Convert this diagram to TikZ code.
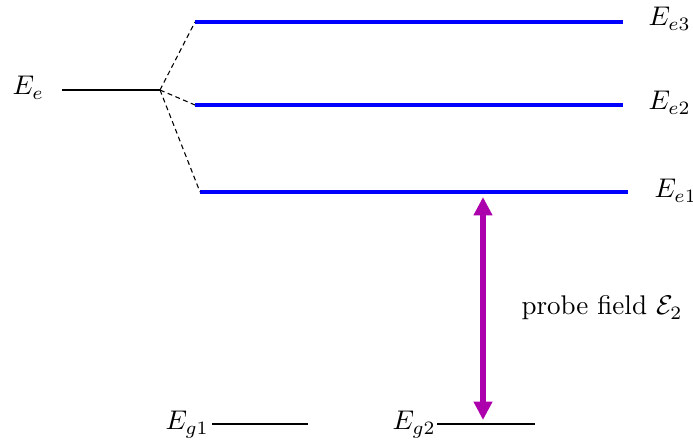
\documentclass[tikz,border=0pt]{standalone}
\usepackage{amsmath}
\usepackage{xcolor}
\definecolor{lvlblue}{RGB}{0,0,255}
\definecolor{probemag}{RGB}{172,0,172}
\usepackage{tikz}
\usetikzlibrary{arrows.meta, positioning}

\tikzset{
  bare/.style={black, line width=0.8pt},
  split/.style={lvlblue, line width=1.5pt},
  fan/.style={dash pattern=on 1.8pt off 1.3pt, line width=0.4pt},
  lbl/.style={inner sep=0pt, anchor=base west},
  probe/.style={probemag, line width=2.2pt, {Triangle[length=6.8pt,width=6.6pt]}-{Triangle[length=6.8pt,width=6.6pt]}}
}

\begin{document}
\begin{tikzpicture}[x=0.37pt, y=-0.37pt]
  \useasboundingbox (0,0) rectangle (693,444);

  % unperturbed excited level
  \coordinate (ee-l) at (62,90);
  \coordinate (ee-r) at (160,90);
  \draw[bare] (ee-l) -- (ee-r);
  \node[lbl] (ee-lbl) at (12,95) {$E_e$};

  % split excited levels
  \coordinate (e3-l) at (195,22);   \coordinate (e3-r) at (623,22);
  \coordinate (e2-l) at (195,105);  \coordinate (e2-r) at (623,105);
  \coordinate (e1-l) at (200,192);  \coordinate (e1-r) at (628,192);
  \draw[split] (e3-l) -- (e3-r);
  \draw[split] (e2-l) -- (e2-r);
  \draw[split] (e1-l) -- (e1-r);
  \node[lbl] (e3-lbl) at (648,26) {$E_{e3}$};
  \node[lbl] (e2-lbl) at (648,110) {$E_{e2}$};
  \node[lbl] (e1-lbl) at (654,198) {$E_{e1}$};

  \draw[fan] (ee-r) -- (e3-l);
  \draw[fan] (ee-r) -- (e2-l);
  \draw[fan] (ee-r) -- (e1-l);

  % ground levels
  \coordinate (g1-l) at (212,424);  \coordinate (g1-r) at (308,424);
  \coordinate (g2-l) at (437,424);  \coordinate (g2-r) at (535,424);
  \draw[bare] (g1-l) -- (g1-r);
  \draw[bare] (g2-l) -- (g2-r);
  \node[lbl] (g1-lbl) at (165,430) {$E_{g1}$};
  \node[lbl] (g2-lbl) at (392,430) {$E_{g2}$};

  % probe transition
  \coordinate (pr-top) at (483,197);
  \coordinate (pr-bot) at (483,420);
  \draw[probe] (pr-top) -- (pr-bot);
  \node[lbl] (pr-lbl) at (521,315) {probe field $\mathcal{E}_2$};
\end{tikzpicture}
\end{document}
